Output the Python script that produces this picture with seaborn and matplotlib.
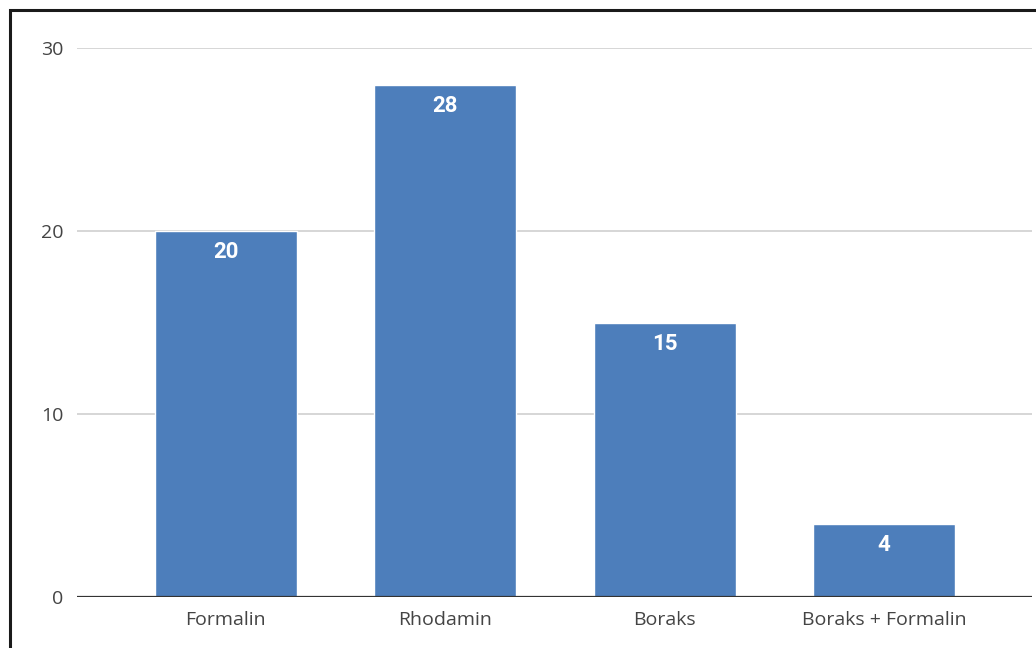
import matplotlib
matplotlib.use("Agg")
import matplotlib.pyplot as plt
from matplotlib.patches import Rectangle
import seaborn as sns

# data
categories = ["Formalin", "Rhodamin", "Boraks", "Boraks + Formalin"]
values = [20, 28, 15, 4]
y_ticks = [0, 10, 20, 30]

BAR = "#4d7ebb"

sns.set_style("white")
plt.rcParams["font.family"] = ["Open Sans", "DejaVu Sans"]

fig = plt.figure(figsize=(10.36, 6.48), dpi=100)
ax = fig.add_axes([77 / 1036, 1 - 597 / 648, 955 / 1036, 549 / 648])

sns.barplot(x=categories, y=values, color=BAR, saturation=1, width=0.647,
            ax=ax, zorder=3)

ax.set_xlim(-0.679, 3.675)
ax.set_ylim(0, 30)
ax.set_yticks(y_ticks)
ax.grid(axis="y", color="#d6d6d6", linewidth=1.4, zorder=0)
ax.grid(axis="x", visible=False)
ax.set_axisbelow(True)
ax.axhline(0, color="#333333", linewidth=1.6, zorder=4)
sns.despine(ax=ax, left=True, bottom=True)
ax.tick_params(axis="both", length=0, labelsize=14, labelcolor="#444444")
ax.tick_params(axis="y", pad=10)
ax.tick_params(axis="x", pad=10)
ax.set_xlabel("")
ax.set_ylabel("")

# value labels inside the top of each bar
for i, v in enumerate(values):
    ax.annotate(str(v), (i, v), xytext=(0, -21), textcoords="offset pixels",
                ha="center", va="center", color="white", fontsize=16,
                fontweight="bold", family=["Roboto", "DejaVu Sans"], zorder=5)

# black frame round the chart (cut off at right and bottom)
fig.add_artist(Rectangle((9.5 / 1036, -0.1), 1.2, 1.1 - 10.5 / 648,
                         transform=fig.transFigure, fill=False,
                         edgecolor="#1a1a1a", linewidth=2.2))

plt.savefig("out.png", dpi=100)
